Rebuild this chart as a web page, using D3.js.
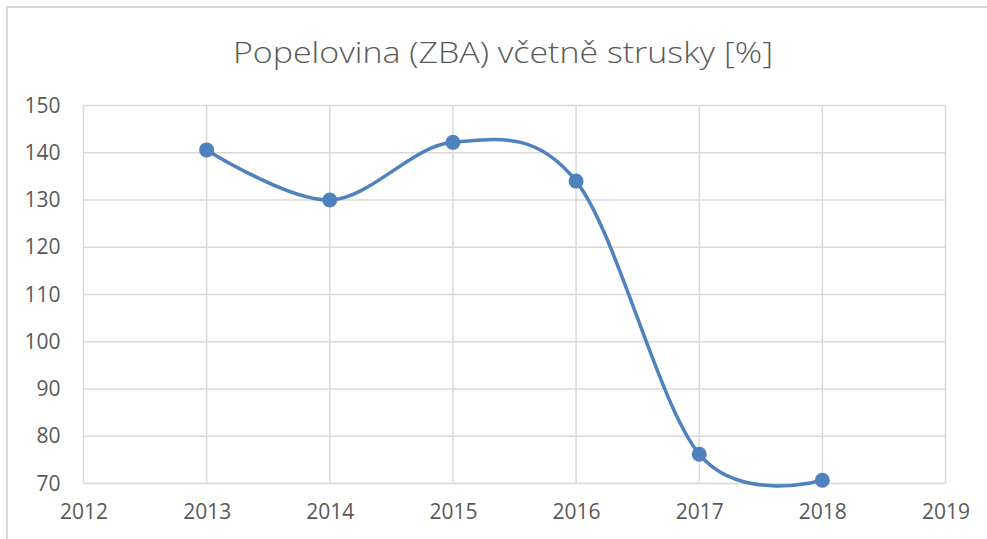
<!DOCTYPE html>
<html>
<head>
<meta charset="utf-8">
<script src="https://cdn.jsdelivr.net/npm/d3@7"></script>
<style>
  body { margin: 0; background: #fff; }
  svg { display: block; }
</style>
</head>
<body>
<svg id="chart" width="987" height="539"></svg>
<script>
// data
var years = [2013, 2014, 2015, 2016, 2017, 2018];
var values = [140.6, 130.0, 142.2, 134.0, 76.2, 70.7];
var yTicks = [70, 80, 90, 100, 110, 120, 130, 140, 150];
var xTicks = [2012, 2013, 2014, 2015, 2016, 2017, 2018, 2019];
var title = "Popelovina (ZBA) včetně strusky [%]";

var svg = d3.select("#chart");
var textColor = "#595959";
var gridColor = "#d9d9d9";
var lineColor = "#4f81bd";

// chart frame (only top and left edges visible)
svg.append("path")
  .attr("d", "M7,540 L7,7 L990,7")
  .attr("fill", "none")
  .attr("stroke", gridColor)
  .attr("stroke-width", 2);

var x = d3.scaleLinear().domain([2012, 2019]).range([83.5, 945.5]);
var y = d3.scaleLinear().domain([70, 150]).range([483.5, 105.5]);

// gridlines
svg.append("g").selectAll("line.h")
  .data(yTicks).enter().append("line")
  .attr("x1", x(2012)).attr("x2", x(2019))
  .attr("y1", function (d) { return y(d); })
  .attr("y2", function (d) { return y(d); })
  .attr("stroke", gridColor).attr("stroke-width", 1.5);

svg.append("g").selectAll("line.v")
  .data(xTicks).enter().append("line")
  .attr("y1", y(70)).attr("y2", y(150))
  .attr("x1", function (d) { return x(d); })
  .attr("x2", function (d) { return x(d); })
  .attr("stroke", gridColor).attr("stroke-width", 1.5);

// axes labels via d3 axes, lines hidden
var yAxis = svg.append("g")
  .attr("transform", "translate(" + (x(2012)) + ",0)")
  .call(d3.axisLeft(y).tickValues(yTicks).tickSize(0).tickPadding(23));
var xAxis = svg.append("g")
  .attr("transform", "translate(0," + y(70) + ")")
  .call(d3.axisBottom(x).tickValues(xTicks).tickSize(0).tickPadding(21).tickFormat(d3.format("d")));

[yAxis, xAxis].forEach(function (a) {
  a.select(".domain").remove();
  a.selectAll("text")
    .attr("fill", textColor)
    .style("font-family", "'Open Sans', sans-serif")
    .style("font-size", "21px");
});

// title
svg.append("text")
  .attr("x", 503)
  .attr("y", 63)
  .attr("text-anchor", "middle")
  .attr("textLength", 540)
  .attr("lengthAdjust", "spacingAndGlyphs")
  .attr("fill", textColor)
  .style("font-family", "'Open Sans', sans-serif")
  .style("font-weight", 300)
  .style("font-size", "29px")
  .text(title);

// smoothed line (excel-like)
var pts = years.map(function (d, i) { return [x(d), y(values[i])]; });
svg.append("path")
  .attr("d", d3.line().curve(d3.curveCardinal.tension(0))(pts))
  .attr("fill", "none")
  .attr("stroke", lineColor)
  .attr("stroke-width", 3.5)
  .attr("stroke-linecap", "round");

svg.append("g").selectAll("circle")
  .data(pts).enter().append("circle")
  .attr("cx", function (d) { return d[0]; })
  .attr("cy", function (d) { return d[1]; })
  .attr("r", 7.5)
  .attr("fill", lineColor);
</script>
</body>
</html>
